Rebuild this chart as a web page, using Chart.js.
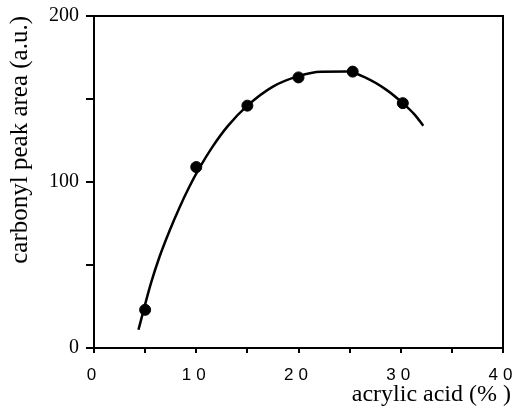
<!DOCTYPE html>
<html>
<head>
<meta charset="utf-8">
<script src="https://cdn.jsdelivr.net/npm/chart.js@4"></script>
<style>
html,body{margin:0;padding:0;background:#fff;}
#wrap{width:517px;height:407px;}
</style>
</head>
<body>
<div id="wrap"><canvas id="c" width="517" height="407"></canvas></div>
<script>
// Measured data points (acrylic acid %, carbonyl peak area a.u.)
const acidPct = [5, 10, 15, 20, 25.3, 30.2];
const peakArea = [23, 109, 146, 163, 166.5, 147.5];

// Fitted curve drawn through the data
const curveX = [4.35, 5.55, 6.4, 7.4, 8.3, 9.3, 10.3, 11.6, 13.1, 15, 17.5, 20, 22.2, 24.7, 26.6, 28.6, 30.2, 31.4, 32.2];
const curveY = [11, 38.6, 54.8, 70.8, 83.8, 96.8, 108.3, 121.3, 133.8, 146, 157.5, 163.8, 166.4, 166.5, 162.7, 155.5, 147.5, 140.3, 133.9];

const xTicks = [0, 10, 20, 30, 40];
const yTicks = [0, 100, 200];

const pts = acidPct.map((x, i) => ({x, y: peakArea[i]}));
const curve = curveX.map((x, i) => ({x, y: curveY[i]}));

const frame = {
  id: 'frame',
  afterDraw(chart) {
    const {ctx, chartArea: a} = chart;
    ctx.save();
    ctx.strokeStyle = '#000';
    ctx.lineWidth = 2;
    ctx.strokeRect(a.left, a.top, a.right - a.left, a.bottom - a.top);
    ctx.restore();
  }
};

new Chart(document.getElementById('c'), {
  type: 'scatter',
  data: {
    datasets: [
      {
        data: curve, showLine: true, cubicInterpolationMode: 'monotone', pointRadius: 0,
        borderColor: '#000', borderWidth: 2.5, fill: false
      },
      {
        data: pts, pointRadius: 5.5, pointBackgroundColor: '#000',
        pointBorderColor: '#000', showLine: false
      }
    ]
  },
  options: {
    responsive: false,
    animation: false,
    layout: {padding: {left: 0, top: 16, right: 14, bottom: 0}},
    plugins: {legend: {display: false}, tooltip: {enabled: false}},
    scales: {
      x: {
        type: 'linear', min: 0, max: 40,
        afterFit(s) { s.height = 59; s.paddingLeft = 0; s.paddingRight = 0; },
        afterUpdate(s) {
          if (s._patched) return;
          s._patched = true;
          const origLabels = s.drawLabels;
          s.drawLabels = function(area) {
            this.ctx.save();
            this.ctx.letterSpacing = '5px';
            origLabels.call(this, area);
            this.ctx.restore();
          };
          const origTitle = s.drawTitle;
          s.drawTitle = function(area) {
            this.ctx.save();
            this.ctx.translate(8, 0);
            origTitle.call(this, area);
            this.ctx.restore();
          };
        },
        grid: {drawOnChartArea: false, tickLength: 5, color: '#000', lineWidth: 2},
        border: {display: true, color: '#000', width: 2},
        ticks: {
          stepSize: 5, autoSkip: false, maxRotation: 0, color: '#000', padding: 12,
          font: {family: 'Liberation Sans', size: 17},
          callback: (v) => xTicks.includes(v) ? String(v) : ''
        },
        title: {
          display: true, text: 'acrylic acid (% )', align: 'end', color: '#000',
          font: {family: 'Liberation Serif', size: 24}, padding: {top: 0, bottom: -2}
        }
      },
      y: {
        type: 'linear', min: 0, max: 200,
        afterFit(s) { s.width = 94; s.paddingTop = 0; s.paddingBottom = 0; },
        grid: {drawOnChartArea: false, tickLength: 8, color: '#000', lineWidth: 2},
        border: {display: true, color: '#000', width: 2},
        ticks: {
          stepSize: 50, autoSkip: false, color: '#000', padding: 7,
          font: {family: 'Liberation Serif', size: 20},
          callback: (v) => yTicks.includes(v) ? String(v) : ''
        },
        title: {
          display: true, text: 'carbonyl peak area (a.u.)', align: 'end', color: '#000',
          font: {family: 'Liberation Serif', size: 25}, padding: {top: 5, bottom: 0}
        }
      }
    }
  },
  plugins: [frame]
});
</script>
</body>
</html>
